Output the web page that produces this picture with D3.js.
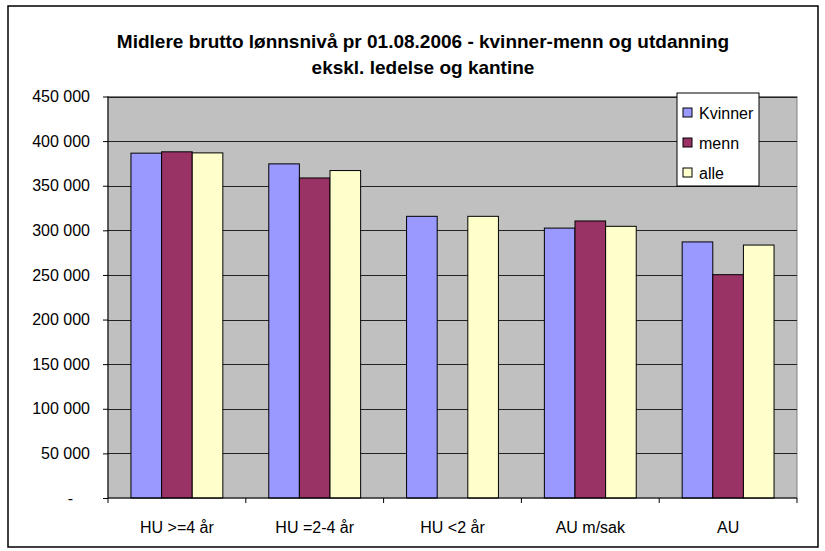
<!DOCTYPE html>
<html>
<head>
<meta charset="utf-8">
<script src="https://cdn.jsdelivr.net/npm/d3@7"></script>
<style>
  body { margin: 0; background: #fff; }
  svg { display: block; font-family: "Liberation Sans", Arial, sans-serif; }
  .tittel { font-size: 19px; font-weight: bold; }
  .akse text { font-size: 16px; fill: #000; }
  .akse path, .akse line { stroke: #000; }
</style>
</head>
<body>
<div id="graf"></div>
<script>
// data lest av figuren
var kategorier = ["HU >=4 år", "HU =2-4 år", "HU <2 år", "AU m/sak", "AU"];
var serier = ["Kvinner", "menn", "alle"];
var kvinner = [386500, 374500, 315700, 302500, 287000];
var menn = [388000, 358700, null, 310500, 250300];
var alle = [386800, 367000, 315700, 304500, 283500];
var yTicks = [0, 50000, 100000, 150000, 200000, 250000, 300000, 350000, 400000, 450000];
var farger = ["#9999ff", "#993366", "#ffffcc"];

var width = 825, height = 551;
var margin = {top: 96.5, right: 28, bottom: 53, left: 108};

var svg = d3.select("#graf").append("svg")
    .attr("width", width)
    .attr("height", height);

// ramme rundt hele diagrammet
svg.append("rect")
    .attr("x", 8).attr("y", 6)
    .attr("width", 810).attr("height", 541)
    .attr("fill", "#fff")
    .attr("stroke", "#000")
    .attr("stroke-width", 1.5);

//Tittel
svg.append("text").attr("class", "tittel")
    .attr("x", 423).attr("y", 48)
    .attr("text-anchor", "middle")
    .text("Midlere brutto lønnsnivå pr 01.08.2006 - kvinner-menn og utdanning");
svg.append("text").attr("class", "tittel")
    .attr("x", 423).attr("y", 74)
    .attr("text-anchor", "middle")
    .text("ekskl. ledelse og kantine");

//Skalaer
var x0 = d3.scaleBand()
    .domain(kategorier)
    .range([margin.left, width - margin.right])
    .padding(0);
var C = x0.bandwidth();
var x1 = d3.scaleBand()
    .domain(serier)
    .range([C / 6, C * 5 / 6])
    .padding(0);
var y = d3.scaleLinear()
    .domain([0, 450000])
    .range([height - margin.bottom, margin.top]);

//Plottområde
svg.append("rect")
    .attr("x", margin.left).attr("y", margin.top)
    .attr("width", width - margin.right - margin.left)
    .attr("height", height - margin.bottom - margin.top)
    .attr("fill", "#c0c0c0")
    .attr("stroke", "#808080");

//Rutenett
svg.append("g")
    .selectAll("line")
    .data(yTicks.filter(d => d > 0)).enter()
    .append("line")
    .attr("x1", margin.left).attr("x2", width - margin.right)
    .attr("y1", d => Math.round(y(d)) + 0.5)
    .attr("y2", d => Math.round(y(d)) + 0.5)
    .attr("stroke", "#222");

//Stolper
var rader = kategorier.map((k, i) => ({kat: k, verdier: [kvinner[i], menn[i], alle[i]]}));
svg.append("g")
    .selectAll("g")
    .data(rader).enter()
    .append("g")
    .attr("transform", d => "translate(" + x0(d.kat) + ",0)")
    .selectAll("rect")
    .data(d => d.verdier.map((v, j) => ({serie: serier[j], v: v, farge: farger[j]})).filter(d => d.v != null))
    .enter()
    .append("rect")
    .attr("x", d => x1(d.serie))
    .attr("y", d => y(d.v))
    .attr("width", x1.bandwidth())
    .attr("height", d => y(0) - y(d.v))
    .attr("fill", d => d.farge)
    .attr("stroke", "#000")
    .attr("stroke-width", 1);

//Akser
var fmt = d => d === 0 ? "-" : d3.format(",")(d).replace(/,/g, " ");
var yAkse = d3.axisLeft(y)
    .tickValues(yTicks)
    .tickFormat(fmt)
    .tickSize(5)
    .tickPadding(13);
var gy = svg.append("g")
    .attr("class", "akse")
    .attr("transform", "translate(" + margin.left + ",0)")
    .call(yAkse);
gy.select(".domain").attr("d", "M0," + margin.top + "V" + y(0));
gy.selectAll(".tick text").filter(d => d === 0).attr("dx", -17);

var xAkse = d3.axisBottom(x0)
    .tickSize(0)
    .tickPadding(24);
var gx = svg.append("g")
    .attr("class", "akse")
    .attr("transform", "translate(0," + y(0) + ")")
    .call(xAkse);
gx.select(".domain").attr("d", "M" + margin.left + ",0H" + (width - margin.right));
// skillestreker mellom kategoriene
gx.selectAll(".skille")
    .data(kategorier.concat(["slutt"])).enter()
    .append("line")
    .attr("class", "skille")
    .attr("x1", (d, i) => margin.left + i * C)
    .attr("x2", (d, i) => margin.left + i * C)
    .attr("y1", 0).attr("y2", 5);

//Forklaring
var leg = svg.append("g").attr("transform", "translate(677,93)");
leg.append("rect")
    .attr("width", 82).attr("height", 93)
    .attr("fill", "#fff").attr("stroke", "#000");
var rad = leg.selectAll(".rad")
    .data(serier).enter()
    .append("g")
    .attr("transform", (d, i) => "translate(0," + (20 + i * 30) + ")");
rad.append("rect")
    .attr("x", 6).attr("y", -5)
    .attr("width", 9).attr("height", 9)
    .attr("fill", (d, i) => farger[i])
    .attr("stroke", "#000");
rad.append("text")
    .attr("x", 22).attr("y", 6)
    .style("font-size", "16px")
    .text(d => d);
</script>
</body>
</html>
